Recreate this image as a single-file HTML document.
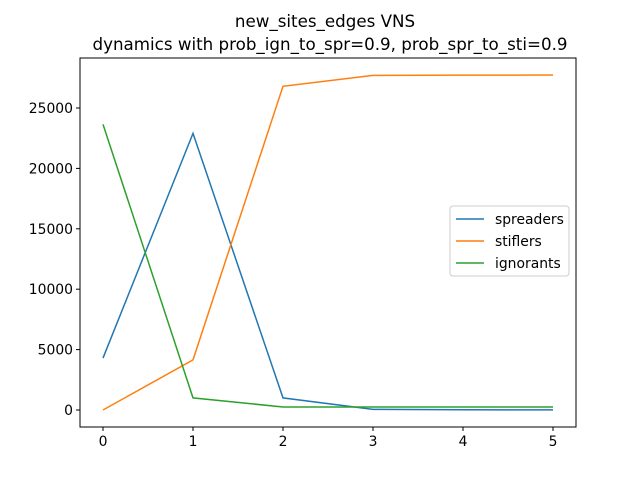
<!DOCTYPE html>
<html><head><meta charset="utf-8"><style>
body{margin:0;background:#fff;}
svg{font-family:"DejaVu Sans","Liberation Sans",sans-serif;}
</style></head><body>
<svg id="chart" width="640" height="480">
<text x="325" y="27" font-size="16.7" text-anchor="middle">new_sites_edges VNS</text>
<text x="330" y="50" font-size="16.7" text-anchor="middle">dynamics with prob_ign_to_spr=0.9, prob_spr_to_sti=0.9</text>
<rect x="80" y="58" width="496" height="369" fill="none" stroke="#000" stroke-width="1"/>
<g id="xt"></g><g id="yt"></g><g id="lines"></g>
<g>
<rect x="450" y="206" width="119" height="70" fill="#fff" stroke="#ccc" rx="3"/>
</g>
<g id="leg"></g>
</svg>
<script>
const steps=[0,1,2,3,4,5];
const spreaders=[4300,22900,1000,50,20,10];
const stiflers=[0,4150,26800,27700,27720,27730];
const ignorants=[23650,1000,250,250,250,250];
const xTicks=[0,1,2,3,4,5];
const yTicks=[0,5000,10000,15000,20000,25000];
const seriesNames=["spreaders","stiflers","ignorants"];
const colors=["#1f77b4","#ff7f0e","#2ca02c"];
const NS="http://www.w3.org/2000/svg";
const X=v=>103+v*90;
const Y=v=>410-v*(60.4/5000);
function mk(t,a,p){const e=document.createElementNS(NS,t);for(const k in a)e.setAttribute(k,a[k]);p.appendChild(e);return e;}
const xt=document.getElementById('xt'),yt=document.getElementById('yt'),ln=document.getElementById('lines'),lg=document.getElementById('leg');
xTicks.forEach(v=>{
 const l=mk('line',{x1:X(v),x2:X(v),y1:427,y2:431,stroke:'#000'},xt);
 
 
 const t=mk('text',{x:X(v),y:446,'font-size':13.9,'text-anchor':'middle'},xt);t.textContent=v;
 
 
});
yTicks.forEach(v=>{
 const l=mk('line',{x1:76,x2:80,y1:Y(v),y2:Y(v),stroke:'#000'},yt);
 
 
 const t=mk('text',{x:73,y:Y(v)+5,'font-size':13.9,'text-anchor':'end'},yt);t.textContent=v;
 
 
});
[spreaders,stiflers,ignorants].forEach((s,i)=>{
 const p=mk('polyline',{points:s.map((v,j)=>X(steps[j])+','+Y(v)).join(' '),fill:'none',stroke:colors[i],'stroke-width':1.5},ln);
 
 
 const yy=219+i*22;
 const l=mk('line',{x1:456,x2:484,y1:yy,y2:yy,stroke:colors[i],'stroke-width':1.5},lg);
 
 
 const t=mk('text',{x:495,y:yy+5,'font-size':13.9},lg);t.textContent=seriesNames[i];
 
 
});
</script>
</body></html>
